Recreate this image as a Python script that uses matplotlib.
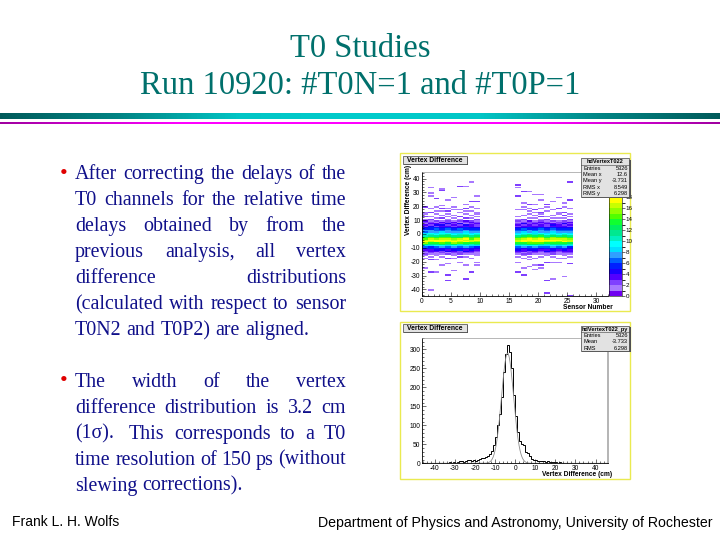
import re
import numpy as np
import matplotlib
matplotlib.use("Agg")
import matplotlib.pyplot as plt
import matplotlib.transforms as mtrans
from matplotlib.patches import Rectangle
from matplotlib.colors import ListedColormap, BoundaryNorm, LinearSegmentedColormap
from matplotlib.cm import ScalarMappable
from matplotlib.ticker import MultipleLocator

plt.rcParams['font.family'] = ['Liberation Sans', 'DejaVu Sans']
plt.rcParams['axes.unicode_minus'] = False

# ------------------------------------------------------------------ data
title_lines = ["T0 Studies", "Run 10920: #T0N=1 and #T0P=1"]
bullet1_lines = ["After correcting the delays of the",
                 "T0 channels for the relative time",
                 "delays obtained by from the",
                 "previous analysis, all vertex",
                 "difference distributions",
                 "(calculated with respect to sensor",
                 "T0N2 and T0P2) are aligned."]
bullet2_lines = ["The width of the vertex",
                 "difference distribution is 3.2 cm",
                 "(1σ).  This corresponds to a T0",
                 "time resolution of 150 ps (without",
                 "slewing corrections)."]
footer_left = "Frank L. H. Wolfs"
footer_right = "Department of Physics and Astronomy, University of Rochester"

panel_title = "Vertex Difference"
x_title_2d = "Sensor Number"
y_title_2d = "Vertex Difference (cm)"
x_title_1d = "Vertex Difference (cm)"

stats_2d_name = "hdVertexT022"
stats_2d_rows = [("Entries", "5326"), ("Mean x", "12.6"), ("Mean y", "-3.731"),
                 ("RMS x", "8.549"), ("RMS y", "6.298")]
stats_1d_name = "hdVertexT022_py"
stats_1d_rows = [("Entries", "5326"), ("Mean", "-3.733"), ("RMS", "6.298")]

sensor_edges = np.arange(0, 33, 1)      # sensor-number bins
vertex_edges = np.arange(-45, 46, 1)    # vertex-difference bins (cm)
colour_ticks = list(range(0, 19, 2))

# counts per sensor, rows from +45 cm (top) down to -45 cm (bottom)
# '.' = 0, '1'..'9', 'a' = 10 ... 'i' = 18   (groups of 5 bins)
sensor_counts = {
    0:  ("..... ..... ..... ..... ..... 2...1", "1.2.1 32132 45768 9adeg hfc86 43212", "1.1.. ....1 ..... ..... ..... ....."),
    1:  ("..... ..... .1... 1.1.. ..... .1..2", "..1.2 12324 55779 abegh gdb85 53321", ".1.2. ..... ..2.. ..... ..... 1...."),
    2:  ("..... ..... ..... ....2 ..... 1..1.", "1..1. 21342 56678 9bdfh idb96 54311", "1..1. ..... ..1.. ..... ..... ....."),
    3:  ("..... ..... ..12. ..... ....1 .2.1.", ".1.2. 13243 45689 acegi hec97 44221", ".1... ..1.. ..... ..... ..... ....."),
    4:  ("..... ..... ..... ..... 1.... .1.2.", "1.1.1 22423 56779 bcegh gdb86 53412", "..2.. .1... ....2 ...2. ..... ....."),
    5:  ("..... ..... ..... ...1. ..... 1.1..", ".1.1. 13232 45678 9bdfg hfc97 54321", "1.1.. ..... .1... ..... ..... ....."),
    6:  ("..... ..... 2.... ..... ..... ..1.1", "..2.1 21423 46678 abdgi gea86 45222", ".2... 1.... ..... ..... ..... ....."),
    7:  ("..... ..... 1.... ..... ...1. .2.1.", "1..2. 32143 55789 acfhg hdb97 53421", ".1... ..1.. ..... ..2.. ..... ....."),
    8:  ("..... ..1.. ..... ..... .2... 1..1.", ".1.1. 23233 45678 9bdeg gda86 44321", "..1.. ..... ..2.. ..... ..... ....."),
    9:  ("..... ..... ..... ..1.. .2... .1..1", "1.1.2 12322 45679 acegh fdb85 43211", "1.... 1.1.. ..... ..... ..... ....."),
    16: ("..... ....2 .1... ..2.. ..... ..1..", "..1.1 21232 45678 9bdfg gdb86 54321", ".1... 1.... ..2.. ..... ..... ....."),
    17: ("..... ..... ....2 ..... ..1.. 1.1..", ".1..2 12423 46689 acegh hdb97 43312", "1.1.. ....1 ....2 ..... ..... ....."),
    18: ("..... ..... ....1 ..... ...2. .1.1.", "1..1. 32233 55779 bdfhi gec96 54222", ".1.1. ...1. ..... ..... ..... ....."),
    19: ("..... ..... ..... .1... ...1. ..2.1", ".1.1. 12323 45688 acegh hec97 54321", "..1.. ..1.. 1.... ..... ..... ....."),
    20: ("..... ..... ..... .1... 1.... .1..2", "1.2.1 23233 56779 bdfhi heb86 43211", ".1... ..2.1 ..... ..... ..... ....."),
    21: ("..... ..... ..... ..... ...2. 1..1.", "..1.2 12322 45678 9bdfh gda86 53421", "1.... 2.... ..... ...2. ..... ..2.."),
    22: ("..... ..... ..... ..... .1... ..1..", ".1.1. 21343 56789 acfgh gdb97 44322", ".1... 1.... ..... ..1.. ..... ....."),
    23: ("..... ..... ..... ...1. ..... .2..1", "1..1. 12233 45678 9begh fdb86 53211", "..1.. 1.... ..... ..... ..... ....."),
    24: ("..... ..... ..... ..... ..1.. 1...2", ".2.1. 22423 45679 acegg hdb97 54321", "1.1.. ..... ..... 1.... ..... ....."),
    25: ("..... ..2.. ..... ..... 2.... .1...", "1.1.2 13232 45678 9bdfg gca85 43321", ".1... .2... ..... ..... ..... ....2"),
}

# projection onto the vertex-difference axis
proj_edges = np.arange(-46, 47, 1)
proj_counts = [1, 0, 1, 0, 1, 1, 0, 1, 1, 2,
               1, 2, 1, 3, 2, 3, 2, 4, 6, 5,
               3, 6, 8, 9, 6, 10, 7, 9, 12, 13,
               15, 17, 19, 24, 32, 48, 68, 100, 130, 175,
               240, 288, 312, 292, 250, 180, 125, 82, 60, 52,
               47, 30, 27, 18, 12, 10, 8, 7, 6, 5,
               6, 4, 5, 3, 4, 3, 3, 2, 3, 2,
               2, 1, 2, 1, 2, 1, 1, 1, 0, 1,
               1, 0, 1, 0, 1, 0, 1, 0, 0, 1,
               0, 0]
fit_constant, fit_mean, fit_sigma = 290.0, -3.8, 3.0

# ------------------------------------------------------------------ figure
W, H = 720, 540
fig = plt.figure(figsize=(7.2, 5.4), dpi=100)
px = mtrans.Affine2D().scale(1.0 / W, -1.0 / H).translate(0, 1) + fig.transFigure


def rect(x0, y0, x1, y1):
    return [x0 / W, 1 - y1 / H, (x1 - x0) / W, (y1 - y0) / H]


def add_rect(x0, y0, x1, y1, **kw):
    r = Rectangle((x0, y0), x1 - x0, y1 - y0, transform=px, **kw)
    fig.add_artist(r)
    return r


def ftext(x, y, s, **kw):
    return fig.text(x, y, s, transform=px, **kw)


# ---- title
teal = '#00706c'
ftext(360, 56.7, title_lines[0], ha='center', va='baseline', family='Liberation Serif',
      fontsize=23.5, color=teal)
ftext(360, 94.5, title_lines[1], ha='center', va='baseline', family='Liberation Serif',
      fontsize=23.5, color=teal)

# ---- separator bands
sep_cmap = LinearSegmentedColormap.from_list('sep', ['#005a5a', '#008585', '#00c6c6', '#00cccc',
                                                      '#00c6c6', '#008585', '#005a5a'])
mag_cmap = LinearSegmentedColormap.from_list('mag', ['#a000a0', '#ff00ff', '#ff00ff',
                                                      '#ff00ff', '#a000a0'])
grad = np.linspace(0, 1, 512)[None, :]
ax_sep = fig.add_axes(rect(0, 112.5, 720, 119.5))
ax_sep.imshow(grad, aspect='auto', cmap=sep_cmap, extent=[0, 1, 0, 1])
ax_sep.axis('off')
ax_mag = fig.add_axes(rect(0, 121.5, 720, 124.2))
ax_mag.imshow(grad, aspect='auto', cmap=mag_cmap, extent=[0, 1, 0, 1])
ax_mag.axis('off')

# ---- justified body text
renderer = fig.canvas.get_renderer()
body_kw = dict(family='Liberation Serif', fontsize=14.4, color='#10108a')


def text_width(s, **kw):
    t = ftext(0, 0, s, **kw)
    w = t.get_window_extent(renderer).width
    t.remove()
    return w


space_w = text_width('a a', **body_kw) - text_width('aa', **body_kw)


def draw_line(line, x0, x1, yb, justify):
    tokens = re.split(r'( +)', line)
    words = tokens[0::2]
    gaps = [len(g) for g in tokens[1::2]]
    ws = [text_width(w, **body_kw) for w in words]
    natural = sum(ws) + space_w * sum(gaps)
    extra = (x1 - x0 - natural) / len(gaps) if (justify and gaps) else 0.0
    x = x0
    for i, w in enumerate(words):
        ftext(x, yb, w, ha='left', va='baseline', **body_kw)
        if i < len(gaps):
            x += ws[i] + space_w * gaps[i] + extra


def draw_bullet(lines, yb0):
    ftext(59.5, yb0 - 0.5, '•', ha='left', va='baseline', family='Liberation Serif',
          fontsize=16, color='#e00000')
    for i, line in enumerate(lines):
        draw_line(line, 75, 346, yb0 + 26 * i, justify=(i < len(lines) - 1))


draw_bullet(bullet1_lines, 179.0)
draw_bullet(bullet2_lines, 386.7)

# ---- footer
ftext(12, 526.5, footer_left, ha='left', va='baseline', fontsize=10, color='black')
ftext(712, 526.5, footer_right, ha='right', va='baseline', fontsize=10.2, color='black')

# ---- ROOT-like panels
for (y0, y1) in [(153, 311), (322, 479)]:
    add_rect(400, y0, 630, y1, fc='white', ec='#eaea50', lw=1.0, zorder=-1)


def style_axes(ax, xmaj, xmin, ymaj, ymin):
    ax.xaxis.set_major_locator(MultipleLocator(xmaj))
    ax.xaxis.set_minor_locator(MultipleLocator(xmin))
    ax.yaxis.set_major_locator(MultipleLocator(ymaj))
    ax.yaxis.set_minor_locator(MultipleLocator(ymin))
    ax.tick_params(which='both', direction='in', top=False, right=False, width=0.4,
                   labelsize=4.8, pad=1.2)
    ax.tick_params(which='major', length=3)
    ax.tick_params(which='minor', length=1.5)
    for s in ['left', 'bottom']:
        ax.spines[s].set_linewidth(0.6)
    ax.spines['top'].set_color('#9a9a9a')
    ax.spines['top'].set_linewidth(0.5)
    ax.spines['right'].set_color('#b4b4b4')
    ax.spines['right'].set_linewidth(1.4)


def pave(x0, y0, x1, y1, zorder=20):
    add_rect(x0 + 1.2, y0 + 1.2, x1 + 1.2, y1 + 1.2, fc='#505050', ec='none', zorder=zorder)
    add_rect(x0, y0, x1, y1, fc='#e2e2e2', ec='#404040', lw=0.5, zorder=zorder + 1)


def title_box(y0):
    pave(403, y0, 467, y0 + 8)
    ftext(435, y0 + 4.3, panel_title, ha='center', va='center', fontsize=4.9,
          weight='bold', zorder=25)


def stats_box(x0, y0, x1, y1, name, rows):
    pave(x0, y0, x1, y1)
    n = len(rows) + 1
    rh = (y1 - y0) / n
    ftext((x0 + x1) / 2, y0 + rh / 2 + 0.2, name, ha='center', va='center', fontsize=4.1,
          weight='bold', zorder=25)
    fig.add_artist(plt.Line2D([x0, x1], [y0 + rh, y0 + rh], transform=px, color='#404040',
                              lw=0.4, zorder=24))
    for i, (k, v) in enumerate(rows):
        yc = y0 + rh * (i + 1.5) + 0.2
        ftext(x0 + 2, yc, k, ha='left', va='center', fontsize=4.1, zorder=25)
        ftext(x1 - 1.5, yc, v, ha='right', va='center', fontsize=4.1, zorder=25)


# ---- 2D histogram
palette = ['#7000f0', '#a878ff', '#8040ff', '#5200ff', '#1a00ff', '#0020ff', '#0060ff',
           '#30a0ff', '#00e0ff', '#00ffff', '#00f0c0', '#00e890', '#00f060', '#10ff30',
           '#50ff00', '#90ff00', '#c8ff00', '#ffff00']
cmap = ListedColormap(palette)
cmap.set_over('#ffff00')
norm = BoundaryNorm(np.arange(0, 19), cmap.N)

counts = np.zeros((len(vertex_edges) - 1, len(sensor_edges) - 1))
for col, parts in sensor_counts.items():
    s = "".join(parts).replace(" ", "")
    vals = [0 if ch == '.' else int(ch, 36) for ch in s]
    counts[:, col] = vals[::-1]
counts_m = np.ma.masked_equal(counts, 0)

ax1 = fig.add_axes(rect(422, 171.7, 608, 296.3))
ax1.pcolormesh(sensor_edges, vertex_edges, counts_m, cmap=cmap, norm=norm, shading='flat')
ax1.set_xlim(0, 32)
ax1.set_ylim(-45, 45)
style_axes(ax1, 5, 1, 10, 2)
ax1.spines['right'].set_visible(False)

cax = fig.add_axes(rect(609, 197, 622, 296.3))
cb = fig.colorbar(ScalarMappable(norm=norm, cmap=cmap), cax=cax, ticks=colour_ticks)
cb.outline.set_linewidth(0.4)
cax.tick_params(direction='out', length=2, width=0.4, labelsize=4.5, pad=0.6)

ftext(612.5, 307.3, x_title_2d, ha='right', va='center', fontsize=4.8, weight='bold')
ftext(408.3, 165, y_title_2d, rotation=90, rotation_mode='anchor', ha='right', va='center',
      fontsize=4.8, weight='bold')
title_box(156)
stats_box(581, 158.3, 629.3, 196.7, stats_2d_name, stats_2d_rows)

# ---- 1D projection
ax2 = fig.add_axes(rect(422, 338, 608, 463.3))
ax2.stairs(proj_counts, proj_edges, color='black', lw=0.7)
xf = np.linspace(proj_edges[0], proj_edges[-1], 600)
ax2.plot(xf, fit_constant * np.exp(-0.5 * ((xf - fit_mean) / fit_sigma) ** 2),
         color='#8c8c8c', lw=0.6)
ax2.set_xlim(-46.4, 46.2)
ax2.set_ylim(0, 330)
style_axes(ax2, 10, 2, 50, 10)

ftext(612.5, 474.6, x_title_1d, ha='right', va='center', fontsize=4.8, weight='bold')
title_box(324)
stats_box(581, 326, 629.3, 351, stats_1d_name, stats_1d_rows)

fig.savefig('out.png', dpi=100)
